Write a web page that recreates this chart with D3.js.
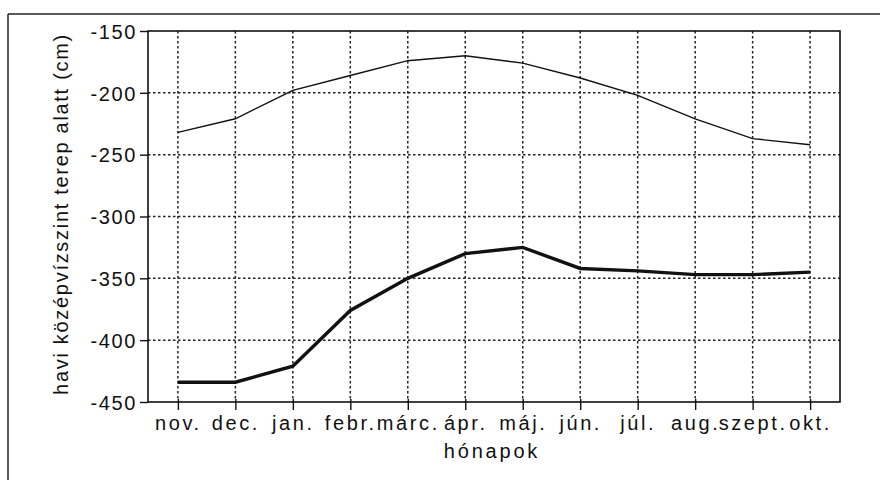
<!DOCTYPE html>
<html><head><meta charset="utf-8">
<script src="https://cdn.jsdelivr.net/npm/d3@7"></script>
<style>body{margin:0;background:#fff}svg{display:block}text{font-family:"Liberation Sans",Arial,sans-serif;fill:#111}</style>
</head><body><svg id="c" width="880" height="480"></svg>
<script>
const months = ["nov.","dec.","jan.","febr.","márc.","ápr.","máj.","jún.","júl.","aug.","szept.","okt."];
const upperSeries = [-232,-221,-198,-186,-174,-170,-176,-188,-202,-221,-237,-242];
const lowerSeries = [-434,-434,-421,-376,-350,-330,-325,-342,-344,-347,-347,-345];
const yTicks = [-150,-200,-250,-300,-350,-400,-450];
const xTitle = "hónapok";
const yTitle = "havi középvízszint terep alatt (cm)";

const svg = d3.select("#c");
const L=148, R=840, T=31, B=402;
const x = d3.scalePoint().domain(months).range([L,R]).padding(0.52);
const y = d3.scaleLinear().domain([-450,-150]).range([B,T]);

// outer frame lines
svg.append("line").attr("x1",8).attr("x2",880).attr("y1",14).attr("y2",14).attr("stroke","#222").attr("stroke-width",1.5);
svg.append("line").attr("x1",8).attr("x2",8).attr("y1",14).attr("y2",480).attr("stroke","#222").attr("stroke-width",1.5);

// grid
const g = svg.append("g");
g.selectAll(".hg").data(yTicks.filter(v=>v>-450&&v<-150)).join("line")
 .attr("x1",L).attr("x2",R).attr("y1",d=>y(d)).attr("y2",d=>y(d))
 .attr("stroke","#222").attr("stroke-width",1.5).attr("stroke-dasharray","2.5,2.5");
g.selectAll(".vg").data(months).join("line")
 .attr("x1",d=>x(d)).attr("x2",d=>x(d)).attr("y1",T).attr("y2",B)
 .attr("stroke","#222").attr("stroke-width",1.5).attr("stroke-dasharray","2.5,2.5");

// frame
svg.append("rect").attr("x",L).attr("y",T).attr("width",R-L).attr("height",B-T)
 .attr("fill","none").attr("stroke","#111").attr("stroke-width",1.6);

// axes
const ya = svg.append("g").attr("transform",`translate(${L},0)`)
 .call(d3.axisLeft(y).tickValues(yTicks).tickSize(8).tickPadding(3).tickFormat(d=>String(d)));
ya.select(".domain").remove();
ya.selectAll("line").attr("stroke","#111").attr("stroke-width",1.4);
ya.selectAll("text").attr("font-size",20).attr("letter-spacing",1.6).attr("dy","0.36em").attr("fill","#111");

const xa = svg.append("g").attr("transform",`translate(0,${B})`)
 .call(d3.axisBottom(x).tickSize(8).tickPadding(4));
xa.select(".domain").remove();
xa.selectAll("line").attr("stroke","#111").attr("stroke-width",1.4).attr("y1",-3);
xa.selectAll("text").attr("font-size",20).attr("letter-spacing",2.6).attr("y",28).attr("dy",0).attr("fill","#111");

// titles
svg.append("text").attr("x",492).attr("y",458).attr("text-anchor","middle").attr("font-size",20).attr("letter-spacing",2.8).text(xTitle);
svg.append("text").attr("transform","translate(68,214) rotate(-90)").attr("text-anchor","middle").attr("font-size",20).attr("letter-spacing",1.7).text(yTitle);

// lines
const line = d3.line().x((d,i)=>x(months[i])).y(d=>y(d));
svg.append("path").datum(upperSeries).attr("d",line).attr("fill","none").attr("stroke","#111").attr("stroke-width",1.4);
svg.append("path").datum(lowerSeries).attr("d",line).attr("fill","none").attr("stroke","#111").attr("stroke-width",3.4);
</script></body></html>
